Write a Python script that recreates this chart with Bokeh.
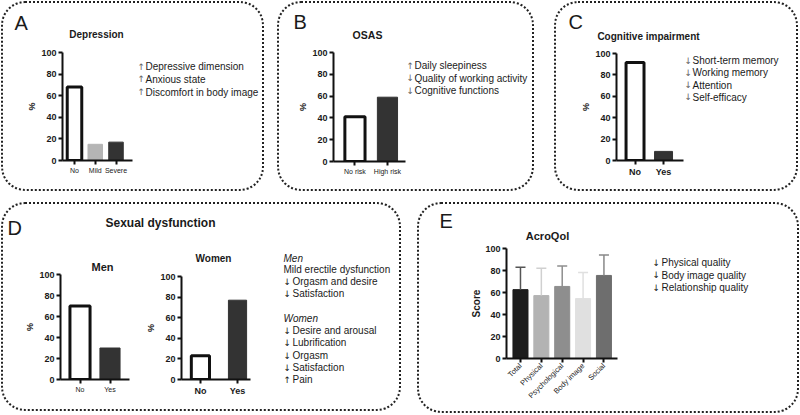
import math
from bokeh.plotting import figure
from bokeh.models import Range1d, FixedTicker, Label, ColumnDataSource
from bokeh.layouts import row, column
from bokeh.embed import file_html
from bokeh.resources import INLINE

FONT = "Liberation Sans"
ARROW_FONT = "DejaVu Sans"
INK = "#1a1a1a"
BORDER = {"border": "2px dotted #222222", "border-radius": "24px"}

# ---------------- data ----------------
dep_cats = ["No", "Mild", "Severe"]
dep_vals = [68, 15, 17]
dep_colors = ["#ffffff", "#b5b5b5", "#333333"]

osas_cats = ["No risk", "High risk"]
osas_vals = [41, 59]
osas_colors = ["#ffffff", "#333333"]

cog_cats = ["No", "Yes"]
cog_vals = [91.5, 8.5]
cog_colors = ["#ffffff", "#333333"]

men_cats = ["No", "Yes"]
men_vals = [70, 30]
women_cats = ["No", "Yes"]
women_vals = [23, 77]
sex_colors = ["#ffffff", "#333333"]

acro_cats = ["Total", "Physical", "Psychological", "Body image", "Social"]
acro_mean = [62.6, 57.2, 65.5, 54.5, 75.5]
acro_sd = [20.4, 24.8, 18.7, 23.7, 18.5]
acro_colors = ["#1c1c1c", "#b3b3b3", "#8e8e8e", "#e0e0e0", "#6e6e6e"]
acro_err_colors = ["#555555", "#d0d0d0", "#8e8e8e", "#e0e0e0", "#888888"]

y_ticks = [0, 20, 40, 60, 80, 100]

dep_notes = ["\u2191 Depressive dimension", "\u2191 Anxious state", "\u2191 Discomfort in body image"]
osas_notes = ["\u2191 Daily sleepiness", "\u2193 Quality of working activity", "\u2193 Cognitive functions"]
cog_notes = ["\u2193 Short-term memory", "\u2193 Working memory", "\u2193 Attention", "\u2193 Self-efficacy"]
sex_notes = [("Men", "italic"), ("Mild erectile dysfunction", "normal"),
             ("\u2193 Orgasm and desire", "normal"), ("\u2193 Satisfaction", "normal"),
             ("Women", "italic"), ("\u2193 Desire and arousal", "normal"),
             ("\u2193 Lubrification", "normal"), ("\u2193 Orgasm", "normal"),
             ("\u2193 Satisfaction", "normal"), ("\u2191 Pain", "normal")]
acro_notes = ["\u2193 Physical quality", "\u2193 Body image quality", "\u2193 Relationship quality"]


def chart_fig(x0, y0, w, h, frame, xr):
    fl, ft, fr, fb = frame
    p = figure(width=w, height=h, x_range=Range1d(*xr), y_range=Range1d(0, 100),
               output_backend="svg", toolbar_location=None,
               min_border_left=fl - x0, min_border_right=x0 + w - fr,
               min_border_top=ft - y0, min_border_bottom=y0 + h - fb)
    p.border_fill_color = None
    p.background_fill_color = None
    p.outline_line_color = None
    p.grid.visible = False
    return p


def text_fig(x0, y0, w, h):
    p = figure(width=w, height=h, x_range=Range1d(0, 1), y_range=Range1d(0, 1),
               x_axis_type=None, y_axis_type=None,
               output_backend="svg", toolbar_location=None,
               min_border_left=0, min_border_right=0, min_border_top=0, min_border_bottom=0)
    p.border_fill_color = None
    p.background_fill_color = None
    p.outline_line_color = None
    p.grid.visible = False
    p._origin = (x0, y0 + h)
    return p


def style_axes(p, ticks, labels, xsize="7px", xbold=False, ylabel="%", ysize="9px",
               orient="horizontal", lab_standoff=1):
    p.xaxis.ticker = FixedTicker(ticks=ticks)
    p.xaxis.major_label_overrides = {t: l for t, l in zip(ticks, labels)}
    p.yaxis.ticker = FixedTicker(ticks=y_ticks)
    for ax in p.axis:
        ax.axis_line_width = 2
        ax.axis_line_color = "#111111"
        ax.major_tick_line_width = 2
        ax.major_tick_line_color = "#111111"
        ax.major_tick_out = 4
        ax.major_tick_in = 0
        ax.minor_tick_line_color = None
        ax.major_label_text_font = FONT
        ax.major_label_text_color = INK
        ax.major_label_standoff = 2
    p.yaxis.major_label_text_font_size = "9px"
    p.yaxis.major_label_text_font_style = "bold"
    p.xaxis.major_label_text_font_size = xsize
    p.xaxis.major_label_text_font_style = "bold" if xbold else "normal"
    p.xaxis.major_label_orientation = orient
    p.yaxis.axis_label = ylabel
    p.yaxis.axis_label_text_font = FONT
    p.yaxis.axis_label_text_font_size = ysize
    p.yaxis.axis_label_text_font_style = "bold"
    p.yaxis.axis_label_text_color = INK
    p.yaxis.axis_label_standoff = lab_standoff


def add_text(p, X, Y, text, size="10px", style="normal", align="left", color=INK, font=FONT):
    ox, ob = p._origin
    p.add_layout(Label(x=X - ox, y=ob - Y, x_units="screen", y_units="screen", text=text,
                       text_font=font, text_font_size=size, text_font_style=style,
                       text_align=align, text_baseline="middle", text_color=color))


def add_note(p, X, Y, text, style="normal", arrow_color=INK, gap=8.5):
    # arrows are drawn with a font that has the glyph, the words in the Arial-like font
    if text[0] in "\u2191\u2193":
        add_text(p, X, Y, text[0], size="9px", color=arrow_color, font=ARROW_FONT)
        add_text(p, X + gap, Y, text[2:], style=style)
    else:
        add_text(p, X, Y, text, style=style)


def bars(p, xs, vals, colors, width):
    lc = ["#111111" if c == "#ffffff" else c for c in colors]
    lw = [3 if c == "#ffffff" else 1 for c in colors]
    src = ColumnDataSource(dict(x=xs, top=vals, fill=colors, lc=lc, lw=lw))
    p.vbar(x="x", top="top", bottom=0, width=width, source=src,
           fill_color="fill", line_color="lc", line_width="lw")


def solo(p):
    # wrap a figure on its own so that its frame is not aligned with its neighbours
    return column(p)


GREY_ARROW = "#666666"

# ---------------- Panel A : outer (1,1)-(264,191) ----------------
hA = text_fig(3, 3, 259, 40)
add_text(hA, 14, 22, "A", size="20px")
add_text(hA, 96, 34, "Depression", size="10px", style="bold", align="center")
cA = chart_fig(3, 43, 132, 146, (62, 52, 132, 160), (-0.578, 2.795))
xa = list(range(len(dep_cats)))
bars(cA, xa, dep_vals, dep_colors, 0.7)
style_axes(cA, xa, dep_cats)
nA = text_fig(135, 43, 127, 146)
for i, t in enumerate(dep_notes):
    add_note(nA, 137, 66 + 12.8 * i, t, arrow_color=GREY_ARROW, gap=8)
panelA = column(hA, row(solo(cA), solo(nA)), styles=BORDER, margin=(1, 0, 0, 1))

# ---------------- Panel B : outer (277,1)-(534,191) ----------------
hB = text_fig(279, 3, 253, 40)
add_text(hB, 293, 21, "B", size="20px")
add_text(hB, 367, 34, "OSAS", size="10.5px", style="bold", align="center")
cB = chart_fig(279, 43, 127, 146, (333, 52, 405, 161), (-0.66, 1.555))
xb = list(range(len(osas_cats)))
bars(cB, xb, osas_vals, osas_colors, 0.62)
style_axes(cB, xb, osas_cats)
nB = text_fig(406, 43, 126, 146)
for i, t in enumerate(osas_notes):
    add_note(nB, 406, 65 + 12.5 * i, t, arrow_color=GREY_ARROW, gap=8)
panelB = column(hB, row(solo(cB), solo(nB)), styles=BORDER, margin=(1, 0, 0, 13))

# ---------------- Panel C : outer (554,1)-(798,191) ----------------
hC = text_fig(556, 3, 240, 40)
add_text(hC, 568, 21, "C", size="20px")
add_text(hC, 648, 36, "Cognitive impairment", size="10px", style="bold", align="center")
cC = chart_fig(556, 43, 128, 146, (616, 53, 683, 160), (-0.65, 1.70))
xc = list(range(len(cog_cats)))
bars(cC, xc, cog_vals, cog_colors, 0.63)
style_axes(cC, xc, cog_cats, xsize="9px", xbold=True)
nC = text_fig(684, 43, 112, 146)
for i, t in enumerate(cog_notes):
    add_note(nC, 684, 60 + 12.3 * i, t, arrow_color=GREY_ARROW, gap=8)
panelC = column(hC, row(solo(cC), solo(nC)), styles=BORDER, margin=(1, 0, 0, 20))

# ---------------- Panel D : outer (1,202)-(401,411) ----------------
hD = text_fig(3, 204, 396, 40)
add_text(hD, 7, 227, "D", size="20px")
add_text(hD, 105, 222, "Sexual dysfunction", size="12px", style="bold")

cM = chart_fig(3, 244, 137, 165, (60, 274, 129, 379), (-0.65, 1.65))
xm = list(range(len(men_cats)))
bars(cM, xm, men_vals, sex_colors, 0.67)
style_axes(cM, xm, men_cats)
cM.title.text = "Men"
cM.title.align = "left"
cM.title.offset = 31
cM.title.standoff = 4
cM.title.text_font = FONT
cM.title.text_font_size = "11px"
cM.title.text_color = INK

hW = text_fig(140, 244, 140, 20)
add_text(hW, 213, 258, "Women", size="10px", style="bold", align="center")
cW = chart_fig(140, 264, 140, 145, (181, 276, 250, 379), (-0.51, 1.35))
xw = list(range(len(women_cats)))
bars(cW, xw, women_vals, sex_colors, 0.49)
style_axes(cW, xw, women_cats, xsize="9px", xbold=True)

nD = text_fig(280, 244, 119, 165)
ys = [258, 269, 281, 293, 318, 330, 342, 355, 367, 379]
for (t, st), yy in zip(sex_notes, ys):
    add_note(nD, 283, yy, t, style=st, gap=9)
panelD = column(hD, row(solo(cM), column(hW, solo(cW)), solo(nD)),
                styles=BORDER, margin=(11, 0, 0, 1))

# ---------------- Panel E : outer (417,202)-(799,413) ----------------
hE = text_fig(419, 204, 378, 38)
add_text(hE, 439, 220, "E", size="20px")
add_text(hE, 547, 235, "AcroQol", size="11px", style="bold", align="center")
cE = chart_fig(419, 242, 221, 169, (506, 248, 617, 358), (-0.67, 4.65))
xe = list(range(len(acro_cats)))
src_e = ColumnDataSource(dict(x=xe, top=acro_mean, fill=acro_colors,
                              up=[m + s for m, s in zip(acro_mean, acro_sd)],
                              cl=[x - 0.24 for x in xe], cr=[x + 0.24 for x in xe],
                              ec=acro_err_colors))
cE.vbar(x="x", top="top", bottom=0, width=0.72, source=src_e,
        fill_color="fill", line_color="fill", line_width=1)
cE.segment(x0="x", y0="top", x1="x", y1="up", source=src_e, line_color="ec", line_width=1.5)
cE.segment(x0="cl", y0="up", x1="cr", y1="up", source=src_e, line_color="ec", line_width=1.5)
style_axes(cE, xe, acro_cats, xsize="7.5px", ylabel="Score", ysize="10px",
           orient=math.pi / 4, lab_standoff=0)
nE = text_fig(640, 242, 157, 169)
for i, t in enumerate(acro_notes):
    add_note(nE, 652, 262 + 12.5 * i, t, gap=9)
panelE = column(hE, row(solo(cE), solo(nE)), styles=BORDER, margin=(11, 0, 0, 16))

# ---------------- layout ----------------
top_row = row(panelA, panelB, panelC)
bottom_row = row(panelD, panelE)
root = column(top_row, bottom_row)

open("out.html", "w").write(file_html(root, INLINE))
